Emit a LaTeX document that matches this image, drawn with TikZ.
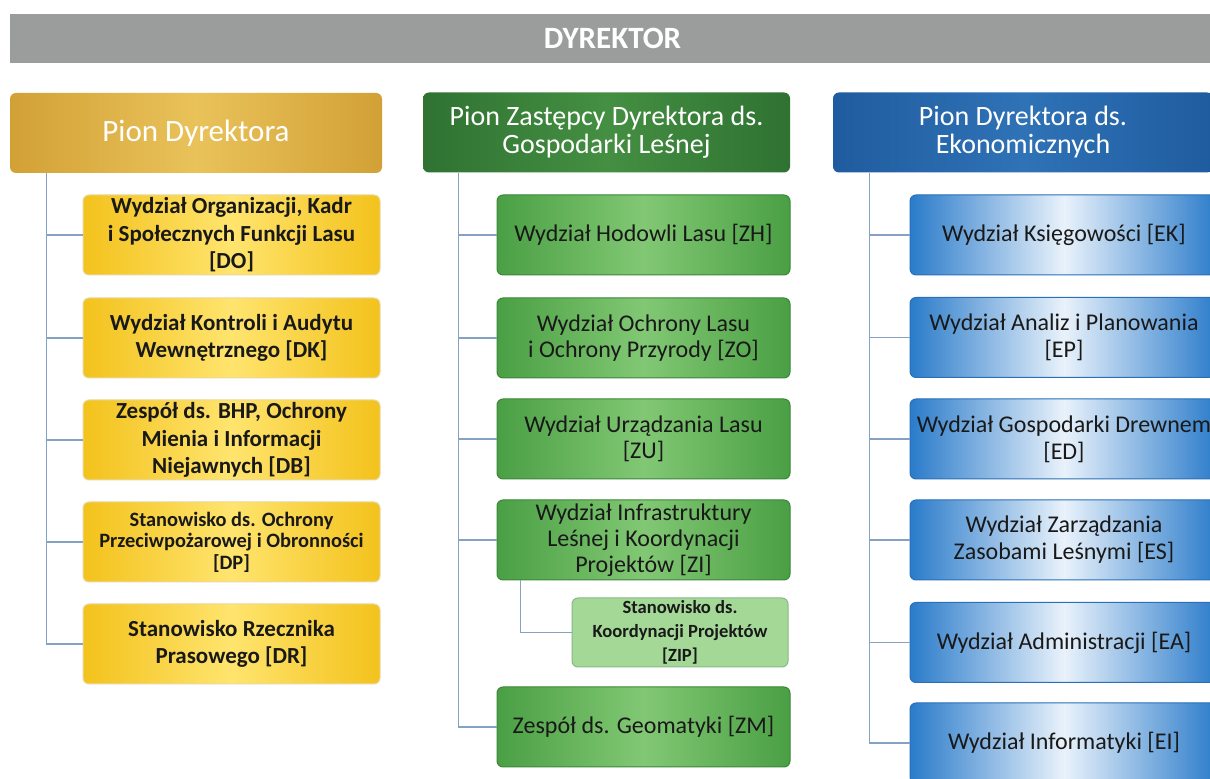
\documentclass[tikz,border=0pt]{standalone}
\usepackage{fontspec}
\setmainfont{Carlito}
\usepackage{tikz}
\usetikzlibrary{positioning}

\definecolor{bannergray}{HTML}{9B9D9C}
\definecolor{goldedge}{HTML}{D2A136}
\definecolor{goldmid}{HTML}{E9C25A}
\definecolor{yeledge}{HTML}{F3C21C}
\definecolor{yelmid}{HTML}{FFE46E}
\definecolor{yelline}{HTML}{E8D9A0}
\definecolor{greenheadedge}{HTML}{2F7232}
\definecolor{greenhead}{HTML}{448F42}
\definecolor{greenedge}{HTML}{4A9F44}
\definecolor{greenmid}{HTML}{82C874}
\definecolor{greenline}{HTML}{3C8739}
\definecolor{greenlight}{HTML}{A3D897}
\definecolor{blueheadedge}{HTML}{1F5C9F}
\definecolor{bluehead}{HTML}{2F72B6}
\definecolor{blueedge}{HTML}{2A7BCA}
\definecolor{bluemid}{HTML}{E9F2FB}
\definecolor{blueline}{HTML}{2A70B8}
\definecolor{linkblue}{HTML}{86A2C2}

\begin{document}
\begin{tikzpicture}[x=0.5pt,y=-0.5pt,
	unit/.style={rounded corners=3pt, minimum height=40pt, align=center, inner sep=1pt, text=black!90},
	head/.style={unit, text=white, font=\fontsize{14}{14}\selectfont},
	ydir/.style={unit, minimum width=148.5pt, draw=yelline, line width=0.5pt, left color=yeledge, right color=yeledge, middle color=yelmid, font=\bfseries\fontsize{11.5}{13.75}\selectfont},
	zgl/.style={unit, minimum width=146.5pt, draw=greenline, line width=0.5pt, left color=greenedge, right color=greenedge, middle color=greenmid, font=\fontsize{12}{13}\selectfont},
	eko/.style={unit, minimum width=154pt, draw=blueline, line width=0.5pt, left color=blueedge, right color=blueedge, middle color=bluemid, font=\fontsize{12}{13.5}\selectfont},
	link/.style={draw=linkblue, line width=0.6pt}]
	\useasboundingbox (0,0) rectangle (1210,779);
	\fill [white] (0,0) rectangle (1210,779);
	\clip (0,0) rectangle (1210,779);
	% Dyrektor %
	\node (dyr) [fill=bannergray, minimum width=602.5pt, minimum height=24.5pt, text=white, font=\bfseries\fontsize{15.5}{16}\selectfont] at (612.5,38.5) {DYREKTOR};
	% Headers %
	\node (pionD) [head, minimum width=186pt, left color=goldedge, right color=goldedge, middle color=goldmid, font=\fontsize{15.5}{16}\selectfont] at (196,133) {Pion Dyrektora};
	\node (pionZ) [head, minimum width=183.5pt, left color=greenheadedge, right color=greenheadedge, middle color=greenhead] at (606.5,132.5) {Pion Zastępcy Dyrektora ds.\\Gospodarki Leśnej};
	\node (pionE) [head, minimum width=190pt, left color=blueheadedge, right color=blueheadedge, middle color=bluehead] at (1023,132.5) {Pion Dyrektora ds.\\Ekonomicznych};
	% Pion Dyrektora %
	\node (do) [ydir] at (231.5,235) {Wydział Organizacji, Kadr\\i Społecznych Funkcji Lasu\\{[DO]}};
	\node (dk) [ydir] at (231.5,338) {Wydział Kontroli i Audytu\\Wewnętrznego [DK]};
	\node (db) [ydir] at (231.5,440) {Zespół ds. BHP, Ochrony\\Mienia i Informacji\\Niejawnych [DB]};
	\node (dp) [ydir, font=\bfseries\fontsize{10.2}{10.75}\selectfont] at (231.5,542) {Stanowisko ds. Ochrony\\Przeciwpożarowej i Obronności\\{[DP]}};
	\node (dr) [ydir] at (231.5,644) {Stanowisko Rzecznika\\Prasowego [DR]};
	% Pion Gospodarki Lesnej %
	\node (zh) [zgl] at (643.5,235) {Wydział Hodowli Lasu [ZH]};
	\node (zo) [zgl] at (643.5,338) {Wydział Ochrony Lasu\\i Ochrony Przyrody [ZO]};
	\node (zu) [zgl] at (643.5,439) {Wydział Urządzania Lasu\\{[ZU]}};
	\node (zi) [zgl] at (643.5,540) {Wydział Infrastruktury\\Leśnej i Koordynacji\\Projektów [ZI]};
	\node (zip) [unit, minimum width=108pt, minimum height=34.5pt, draw=greenline!60, line width=0.5pt, fill=greenlight, font=\bfseries\fontsize{9.3}{12}\selectfont] at (680,632.5) {Stanowisko ds.\\Koordynacji Projektów\\{[ZIP]}};
	\node (zm) [zgl] at (643.5,727) {Zespół ds. Geomatyki [ZM]};
	% Pion Ekonomiczny %
	\node (ek) [eko] at (1064,235) {Wydział Księgowości [EK]};
	\node (ep) [eko] at (1064,337.5) {Wydział Analiz i Planowania\\{[EP]}};
	\node (ed) [eko] at (1064,439) {Wydział Gospodarki Drewnem\\{[ED]}};
	\node (es) [eko] at (1064,540) {Wydział Zarządzania\\Zasobami Leśnymi [ES]};
	\node (ea) [eko] at (1064,642.5) {Wydział Administracji [EA]};
	\node (ei) [eko] at (1064,743) {Wydział Informatyki [EI]};
	% Links %
	\coordinate (trunkD) at ([xshift=18.5pt]pionD.south west);
	\coordinate (trunkZ) at ([xshift=18pt]pionZ.south west);
	\coordinate (trunkE) at ([xshift=18.5pt]pionE.south west);
	\draw [link] (trunkD) |- (dr.west);
	\foreach \n in {do,dk,db,dp}
		{\draw [link] (trunkD |- \n.west) -- (\n.west);}
	\draw [link] (trunkZ) |- (zm.west);
	\foreach \n in {zh,zo,zu,zi}
		{\draw [link] (trunkZ |- \n.west) -- (\n.west);}
	\draw [link] ([xshift=12pt]zi.south west) |- (zip.west);
	\draw [link] (trunkE) |- (ei.west);
	\foreach \n in {ek,ep,ed,es,ea}
		{\draw [link] (trunkE |- \n.west) -- (\n.west);}
\end{tikzpicture}
\end{document}
